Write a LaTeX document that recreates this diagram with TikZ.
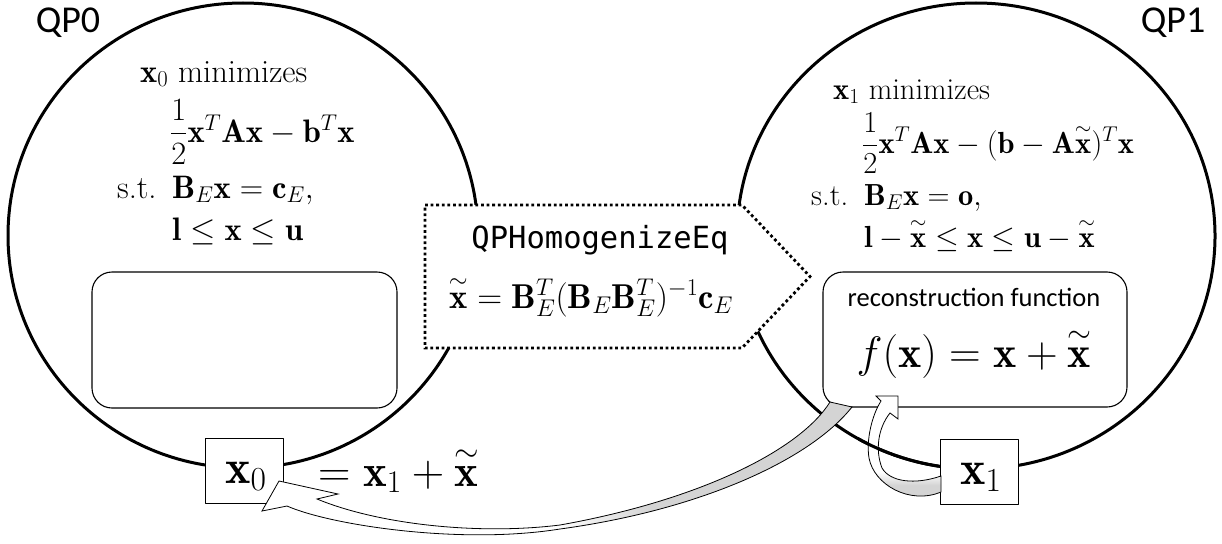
\RequirePackage{fix-cm}
\documentclass[tikz,border=0pt]{standalone}
\usepackage{amsmath}
\usepackage{exscale}
\usepackage{fontspec}
\newfontfamily\carlito{Carlito}
\newfontfamily\monof{DejaVu Sans Mono}
\newcommand{\xtil}{\overset{\sim}{\mathbf{x}}}
\pgfdeclarehorizontalshading{bigarr}{100bp}{color(0bp)=(white); color(50bp)=(white); color(58bp)=(black!17); color(100bp)=(black!17)}
\pgfdeclareverticalshading{smallarr}{100bp}{color(0bp)=(black!17); color(34bp)=(black!17); color(40bp)=(white); color(100bp)=(white)}
\begin{document}
\begin{tikzpicture}[x=1pt,y=-1pt,line join=round,
  circ/.style={line width=3pt},
  rbox/.style={draw,fill=white,rounded corners=20pt,line width=1.1pt,inner sep=0pt},
  vbox/.style={draw,fill=white,line width=0.9pt,inner sep=0pt,minimum width=78pt,minimum height=65pt},
  lbl/.style={anchor=base,inner sep=0pt,font=\carlito\fontsize{38}{44}\selectfont},
  mleft/.style={anchor=base west,inner sep=0pt,font=\fontsize{32.5}{38}\selectfont},
  mright/.style={anchor=base west,inner sep=0pt,font=\fontsize{30.5}{36}\selectfont},
  dotbox/.style={draw,fill=white,line width=2.8pt,dash pattern=on 2.8pt off 2.8pt,line join=miter},
  arrline/.style={draw,line width=0.8pt,line join=miter}]
\useasboundingbox (0,0) rectangle (1222,543);
% circles
\draw[circ] (243,235.5) ellipse [x radius=235, y radius=232.5];
\draw[circ] (976,236) ellipse [x radius=239, y radius=233];
% rounded boxes
\node[rbox,minimum width=305pt,minimum height=136pt] (r0) at (244.5,340) {};
\node[rbox,minimum width=304pt,minimum height=135pt] (r1) at (975,339.5) {};
% dotted arrow box
\draw[dotbox] (425,205) -- (742,205) -- (810,276.5) -- (742,348) -- (425,348) -- cycle;
\node[anchor=base,inner sep=0pt,font=\monof\fontsize{30.5}{36}\selectfont] (qph) at (600,248) {QPHomogenizeEq};
\node[anchor=base,inner sep=0pt,font=\fontsize{34.5}{40}\selectfont] (xt) at (591,308) {$\xtil=\mathbf{B}_E^T(\mathbf{B}_E\mathbf{B}_E^T)^{-1}\mathbf{c}_E$};
% value boxes
\node[vbox] (x0b) at (244,470.5) {};
\node[vbox] (x1b) at (979.5,471.5) {};
\node[anchor=base,inner sep=0pt,font=\fontsize{48}{56}\selectfont] (x0t) at (246,483) {$\mathbf{x}_0$};
\node[anchor=base,inner sep=0pt,font=\fontsize{48}{56}\selectfont] (x1t) at (981,484) {$\mathbf{x}_1$};
\node[anchor=base west,inner sep=0pt,font=\fontsize{45}{52}\selectfont] (eq) at (318,486) {$=\mathbf{x}_1+\xtil$};
% labels
\node[lbl] (qp0) at (68,33) {QP0};
\node[lbl] (qp1) at (1173,33) {QP1};
% left problem
\node[mleft] (m0) at (140,82) {$\mathbf{x}_0$ minimizes};
\node[mleft] (o0) at (170,142) {$\dfrac{1}{2}\mathbf{x}^T\mathbf{A}\mathbf{x}-\mathbf{b}^T\mathbf{x}$};
\node[mleft] (st0) at (117,198) {s.t.};
\node[mleft] (c0) at (172,198) {$\mathbf{B}_E\mathbf{x}=\mathbf{c}_E,$};
\node[mleft] (b0) at (172,240) {$\mathbf{l}\leq\mathbf{x}\leq\mathbf{u}$};
% right problem
\node[mright] (m1) at (833,99) {$\mathbf{x}_1$ minimizes};
\node[mright] (o1) at (862,153) {$\dfrac{1}{2}\mathbf{x}^T\mathbf{A}\mathbf{x}-(\mathbf{b}-\mathbf{A}\xtil)^T\mathbf{x}$};
\node[mright] (st1) at (811,205) {s.t.};
\node[mright] (c1) at (864,205) {$\mathbf{B}_E\mathbf{x}=\mathbf{o},$};
\node[mright] (b1) at (864,247) {$\mathbf{l}-\xtil\leq\mathbf{x}\leq\mathbf{u}-\xtil$};
% reconstruction box text
\node[anchor=base,inner sep=0pt,font=\carlito\fontsize{26.5}{32}\selectfont] (rf) at (974,306) {reconstruction function};
\node[anchor=base,inner sep=0pt,font=\fontsize{44}{52}\selectfont] (fx) at (974,367) {$f(\mathbf{x})=\mathbf{x}+\xtil$};
% small curved arrow x1 -> reconstruction function
\shadedraw[arrline,shading=smallarr] (941,476) .. controls (915,485) and (890,482) .. (882,468) .. controls (875,450) and (878,428) .. (890,413) -- (898,419) -- (898,396) -- (876,396) -- (881,401) .. controls (872,415) and (866,440) .. (869,458) .. controls (874,485) and (910,505) .. (941,492) -- cycle;
\begin{scope}
\clip (858,418) rectangle (939,500);
\draw[circ] (976,236) ellipse [x radius=239, y radius=233];
\end{scope}
% big curved arrow reconstruction function -> x0
\shadedraw[arrline,shading=bigarr] (830,402) .. controls (800,450) and (700,500) .. (560,525) .. controls (480,535) and (380,525) .. (317,499) -- (338,494) -- (279,481) -- (262,511) -- (287,506) .. controls (330,525) and (460,545) .. (560,529) .. controls (700,510) and (810,460) .. (852,407) -- cycle;
\end{tikzpicture}
\end{document}
